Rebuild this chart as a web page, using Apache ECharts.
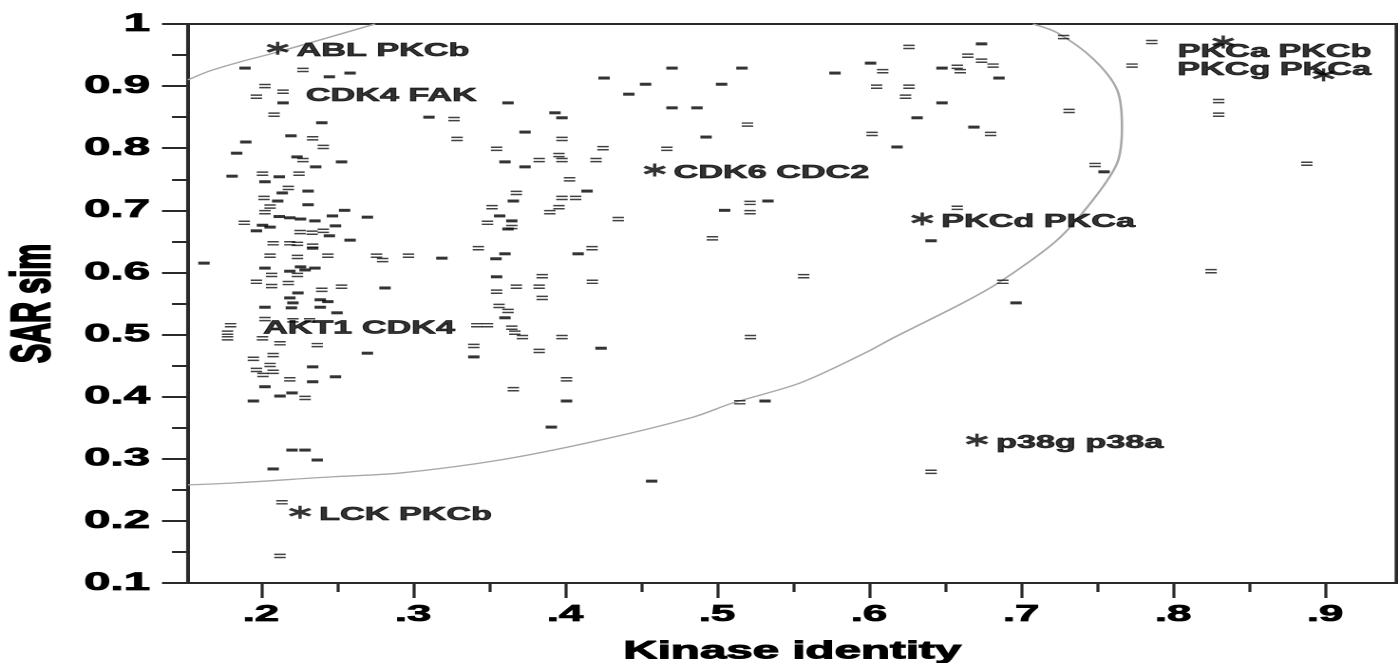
<!DOCTYPE html>
<html>
<head>
<meta charset="utf-8">
<script src="https://cdn.jsdelivr.net/npm/echarts@6/dist/echarts.min.js"></script>
<style>
  html, body { margin: 0; padding: 0; background: #fff; overflow: hidden; }
  #wrap { width: 1398px; height: 663px; overflow: hidden; position: relative; }
  /* the figure is laid out narrow and widened horizontally, like the printed plot */
  #chart { width: 736px; height: 663px; transform-origin: 0 0; transform: scaleX(1.8995); }
</style>
</head>
<body>
<div id="wrap"><div id="chart"></div></div>
<script>
// ---------- data ----------
const xTicks = [0.2, 0.3, 0.4, 0.5, 0.6, 0.7, 0.8, 0.9];
const xMinorTicks = [0.25, 0.35, 0.45, 0.55, 0.65, 0.75, 0.85];

// kinase pairs: [kinase identity, SAR similarity]
const solidPairs = [
  [.1895,.929],[.245,.915],[.2586,.921],[.2145,.873],[.240,.841],[.2197,.820],[.190,.810],[.184,.792],
  [.2237,.786],[.236,.770],[.253,.778],[.181,.755],[.212,.754],[.2026,.746],[.214,.728],[.231,.731],
  [.211,.715],[.231,.709],[.255,.700],[.247,.691],[.270,.689],[.212,.690],[.219,.688],[.226,.686],
  [.2355,.683],[.201,.676],[.206,.673],[.249,.675],[.197,.667],[.245,.659],[.2586,.652],[.234,.639],
  [.1625,.615],[.2026,.607],[.226,.609],[.229,.604],[.219,.602],[.2355,.607],[.2816,.575],[.2243,.567],
  [.219,.559],[.239,.556],[.221,.551],[.220,.543],[.244,.553],[.239,.544],[.250,.535],[.2026,.544],
  [.270,.470],[.234,.448],[.234,.424],[.249,.432],[.2026,.416],[.2125,.401],[.2204,.406],[.195,.393],
  [.2204,.314],[.229,.314],[.237,.298],[.208,.2836],
  [.4704,.929],[.5164,.929],[.4257,.913],[.453,.903],[.503,.903],[.442,.887],[.3625,.873],[.4704,.865],
  [.4868,.865],[.3105,.850],[.3934,.857],[.398,.849],[.3737,.826],[.4928,.818],[.3605,.778],[.3737,.770],
  [.366,.715],[.4145,.731],[.357,.691],[.365,.683],[.3625,.670],[.505,.700],[.5335,.715],[.3605,.630],
  [.3546,.622],[.319,.623],[.4086,.630],[.355,.593],[.3605,.527],
  [.340,.464],[.4237,.478],[.401,.393],[.391,.351],[.5316,.393],[.457,.264],
  [.674,.968],[.648,.929],[.6855,.913],[.648,.873],[.6316,.849],[.669,.834],[.6184,.802],[.7546,.762],
  [.6408,.651],[.6967,.551],[.601,.937],[.5776,.921]
];

const doublePairs = [
  [.2276,.926],[.2026,.900],[.197,.883],[.2145,.891],[.2086,.854],[.234,.816],[.241,.802],[.2276,.781],
  [.201,.759],[.225,.759],[.218,.736],[.202,.720],[.206,.706],[.2026,.697],[.189,.680],[.2257,.665],
  [.2336,.664],[.241,.667],[.208,.647],[.219,.647],[.224,.646],[.234,.643],[.206,.627],[.224,.625],
  [.244,.627],[.276,.627],[.280,.620],[.297,.627],[.207,.596],[.224,.596],[.197,.585],[.207,.578],
  [.218,.583],[.240,.572],[.253,.577],[.2026,.525],[.221,.523],[.232,.523],[.180,.515],[.178,.503],
  [.178,.494],[.201,.494],[.2125,.486],[.237,.483],[.195,.461],[.208,.467],[.206,.451],[.197,.443],
  [.208,.440],[.2013,.435],[.219,.428],[.229,.398],[.2138,.230],[.2125,.1435],
  [.327,.847],[.520,.838],[.329,.815],[.398,.815],[.355,.799],[.425,.800],[.467,.799],[.383,.781],
  [.396,.789],[.398,.781],[.4204,.781],[.403,.750],[.368,.728],[.398,.720],[.407,.720],[.352,.705],
  [.396,.705],[.390,.697],[.349,.680],[.365,.673],[.435,.686],[.5217,.712],[.5217,.697],[.497,.655],
  [.343,.639],[.4178,.639],[.557,.594],[.385,.594],[.368,.577],[.355,.569],[.383,.577],[.385,.559],
  [.418,.585],[.3566,.546],[.3625,.538],[.342,.515],[.349,.515],[.365,.511],[.367,.503],[.372,.496],
  [.398,.496],[.522,.496],
  [.340,.4816],[.383,.4736],[.401,.428],[.366,.412],[.515,.391],
  [.728,.979],[.786,.971],[.6263,.963],[.665,.949],[.674,.941],[.6816,.933],[.658,.931],[.660,.924],
  [.609,.924],[.773,.933],[.6263,.899],[.624,.883],[.7316,.860],[.680,.823],[.830,.876],[.830,.854],
  [.888,.775],[.7487,.773],[.658,.704],[.688,.585],[.825,.602],[.605,.899],[.602,.823],[.6408,.279]
];

// highlighted pairs (asterisks)
const namedPairNames = ['ABL PKCb', 'CDK6 CDC2', 'PKCd PKCa', 'p38g p38a', 'LCK PKCb', 'PKCa PKCb', 'PKCg PKCa'];
const namedPairValues = [[.211,.961],[.459,.765],[.635,.686],[.671,.330],[.2257,.214],[.833,.971],[.899,.918]];

// pairs that are named but whose asterisk is covered by other marks
const coveredPairNames = ['CDK4 FAK', 'AKT1 CDK4'];
const coveredPairValues = [[.2289,.884],[.2007,.51]];

// boundary of the similar-SAR region
const boundaryUpper = [[.152,.910],[.1664,.9245],[.1862,.939],[.2112,.955],[.275,1.0]];
const boundaryLower = [
  [.7079,1.0],[.7237,.986],[.7474,.944],[.7632,.894],[.7664,.834],[.7632,.776],[.7474,.717],
  [.7237,.652],[.6862,.585],[.6618,.551],[.6158,.4945],[.5987,.472],[.5546,.422],[.5105,.390],
  [.4842,.367],[.423,.330],[.3572,.298],[.2914,.277],[.2474,.271],[.1816,.261],[.152,.258]
];

// ---------- chart ----------
const FONT = '"Liberation Sans", Arial, Helvetica, sans-serif';
const INK = '#000';
const AXIS = '#2a2a2a';
const X_MIN = 0.152, X_MAX = 0.947;

// heavy text: bold face plus a thin outline in the same ink
const heavy = (size, stroke) => ({
  fontFamily: FONT, fontWeight: 'bold', fontSize: size, color: INK,
  textBorderColor: INK, textBorderWidth: stroke
});

const ASTERISK = 'path://M8.6,0H11.4V20H8.6Z' +
  'M0.3,13.3L17.6,3.3L19.7,6.7L2.4,16.7Z' +
  'M2.4,3.3L19.7,13.3L17.6,16.7L0.3,6.7Z';
const DOUBLE_DASH = 'path://M0,0H10V1.1H0Z M0,2.3H10V3.4H0Z';

const labelNudge = {
  'PKCa PKCb': [-34, 10],
  'PKCg PKCa': [-87, -5]
};

const chart = echarts.init(document.getElementById('chart'), null, { renderer: 'canvas', devicePixelRatio: 2 });

chart.setOption({
  animation: false,
  backgroundColor: '#fff',
  grid: {
    left: 98.97, right: 0.8, top: 24, bottom: 80,
    show: true, borderColor: AXIS, borderWidth: 2, backgroundColor: 'transparent',
    containLabel: false, outerBoundsMode: 'none'
  },
  xAxis: [
    {
      type: 'value', min: X_MIN, max: X_MAX, position: 'bottom',
      name: 'Kinase identity', nameLocation: 'middle', nameGap: 56,
      nameTextStyle: heavy(25, 1),
      axisLine: { show: true, onZero: false, lineStyle: { color: AXIS, width: 2 } },
      axisTick: { show: true, customValues: xTicks, length: 15, lineStyle: { color: AXIS, width: 1.6 } },
      axisLabel: Object.assign({
        customValues: xTicks, margin: 20,
        formatter: v => '.' + Math.round(v * 10)
      }, heavy(23, 0.8)),
      splitLine: { show: false }
    },
    {
      type: 'value', min: X_MIN, max: X_MAX, position: 'bottom', offset: 0,
      axisLine: { show: false },
      axisTick: { show: true, customValues: xMinorTicks, length: 9, lineStyle: { color: AXIS, width: 1.6 } },
      axisLabel: { show: false },
      splitLine: { show: false }
    }
  ],
  yAxis: {
    type: 'value', min: 0.1, max: 1, interval: 0.1,
    name: 'SAR sim', nameLocation: 'middle', nameGap: 48, nameRotate: 90,
    nameTextStyle: heavy(29, 1.3),
    axisLine: { show: true, onZero: false, lineStyle: { color: AXIS, width: 2 } },
    axisTick: { show: true, length: 13.7, lineStyle: { color: AXIS, width: 2 } },
    minorTick: { show: true, splitNumber: 2, length: 8.4, lineStyle: { color: AXIS, width: 2 } },
    axisLabel: Object.assign({
      margin: 20,
      formatter: v => (Math.abs(v - 1) < 1e-9 ? '1' : v.toFixed(1))
    }, heavy(25, 0.8)),
    splitLine: { show: false },
    minorSplitLine: { show: false }
  },
  series: [
    {
      type: 'line', data: boundaryUpper, showSymbol: false, smooth: 0.3, silent: true, z: 1,
      lineStyle: { color: '#a8a8a8', width: 1.3 }
    },
    {
      type: 'line', data: boundaryLower, showSymbol: false, smooth: 0.3, silent: true, z: 1,
      lineStyle: { color: '#a8a8a8', width: 1.3 }
    },
    {
      type: 'scatter', data: solidPairs, symbol: 'rect', symbolSize: [6, 3], z: 3,
      itemStyle: { color: '#000' }
    },
    {
      type: 'scatter', data: doublePairs, symbol: DOUBLE_DASH, symbolSize: [6, 4.6], z: 3,
      itemStyle: { color: '#111' }
    },
    {
      type: 'scatter', symbol: ASTERISK, symbolSize: [12, 13], z: 5,
      itemStyle: { color: '#000' },
      data: namedPairNames.map((name, i) => ({
        name, value: namedPairValues[i],
        label: { offset: labelNudge[name] || [0, 3] }
      })),
      label: Object.assign({ show: true, position: 'right', distance: 4, formatter: '{b}' }, heavy(18, 0.7))
    },
    {
      type: 'scatter', symbol: 'circle', symbolSize: 1, z: 4,
      itemStyle: { color: 'rgba(0,0,0,0)' },
      data: coveredPairNames.map((name, i) => ({ name, value: coveredPairValues[i] })),
      label: Object.assign({ show: true, position: 'right', distance: 0, formatter: '{b}' }, heavy(18, 0.7))
    }
  ]
});
</script>
</body>
</html>
